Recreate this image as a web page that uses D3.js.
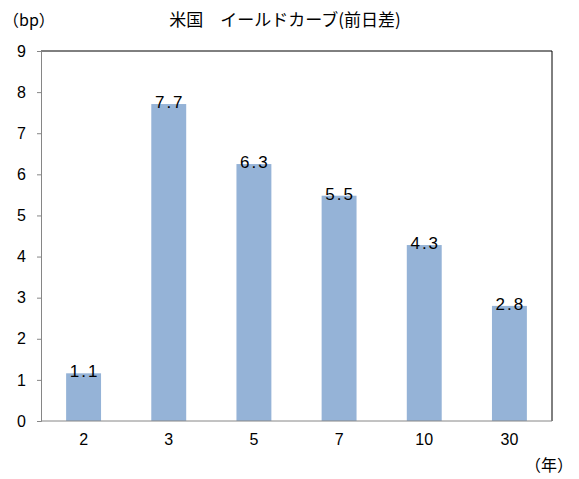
<!DOCTYPE html>
<html><head><meta charset="utf-8">
<script src="https://cdn.jsdelivr.net/npm/d3@7"></script>
<style>
html,body{margin:0;padding:0;background:#fff;}
svg{display:block;}
.num{font-family:"Liberation Sans","Arial",sans-serif;}
.jp{font-family:"Noto Sans CJK JP",sans-serif;}
</style>
</head><body>
<script>
const categories = ["2","3","5","7","10","30"];
const values = [1.16, 7.71, 6.25, 5.48, 4.28, 2.80];
const valueLabels = ["1.1","7.7","6.3","5.5","4.3","2.8"];
const yTicks = [0,1,2,3,4,5,6,7,8,9];
const titleText = "米国　イールドカーブ(前日差)";
const yUnit = "（bp）";
const xUnit = "（年）";

const W = 579, H = 479;
const m = {left:41, right:27, top:51, bottom:58};
const svg = d3.select("body").append("svg").attr("width",W).attr("height",H);

const x = d3.scaleBand().domain(categories).range([m.left, W-m.right]).paddingInner(0.59).paddingOuter(0.295);
const y = d3.scaleLinear().domain([0,9]).range([H-m.bottom, m.top]);

// plot frame (top & right black)
svg.append("path")
  .attr("d", `M${m.left},${m.top}H${W-m.right}V${H-m.bottom}`)
  .attr("fill","none").attr("stroke","#000").attr("stroke-width",1);

// bars
svg.append("g").selectAll("rect").data(values).join("rect")
  .attr("x",(d,i)=>x(categories[i]))
  .attr("y",d=>y(d))
  .attr("width",x.bandwidth())
  .attr("height",d=>y(0)-y(d))
  .attr("fill","#95b3d7");

// y axis
const ya = svg.append("g").attr("transform",`translate(${m.left},0)`)
  .call(d3.axisLeft(y).tickValues(yTicks).tickSize(4).tickPadding(11).tickFormat(d3.format("d")));
ya.select(".domain").attr("stroke","#868686");
ya.selectAll(".tick line").attr("stroke","#868686");
ya.selectAll("text").attr("class","num").attr("font-size",16).attr("fill","#000");

// x axis
const xa = svg.append("g").attr("transform",`translate(0,${H-m.bottom})`)
  .call(d3.axisBottom(x).tickSize(0).tickPadding(13));
xa.select(".domain").attr("stroke","#868686").attr("d",`M${m.left},0H${W-m.right}`);
xa.selectAll("text").attr("class","num").attr("font-size",16).attr("fill","#000");

// value labels
svg.append("g").selectAll("text").data(values).join("text")
  .attr("class","num")
  .attr("x",(d,i)=>x(categories[i])+x.bandwidth()/2+1)
  .attr("y",d=>y(d)+4)
  .attr("text-anchor","middle")
  .attr("font-size",17)
  .attr("letter-spacing","2px")
  .attr("fill","#000")
  .text((d,i)=>valueLabels[i]);

// title and units
svg.append("text").attr("class","jp").attr("x",285).attr("y",26)
  .attr("text-anchor","middle").attr("font-size",17).attr("fill","#000").text(titleText);
svg.append("text").attr("class","jp").attr("x",3).attr("y",26)
  .attr("font-size",16).attr("fill","#000").text(yUnit);
svg.append("text").attr("class","jp").attr("x",W-6).attr("y",471)
  .attr("text-anchor","end").attr("font-size",16).attr("fill","#000").text(xUnit);
</script>
</body></html>
